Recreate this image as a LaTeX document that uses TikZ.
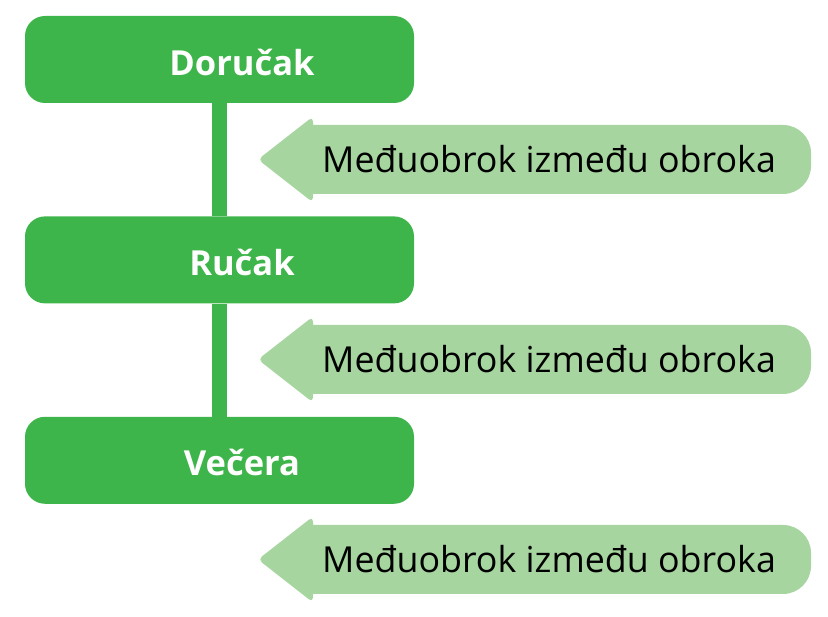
\documentclass[tikz,border=0pt]{standalone}
\usepackage{fontspec}
\setmainfont{Open Sans}
\usepackage{tikz}
\usetikzlibrary{positioning}

\definecolor{mealgreen}{RGB}{62,181,74}
\definecolor{snackgreen}{RGB}{166,213,160}

\begin{document}
\begin{tikzpicture}[
    x=1pt, y=1pt,
    mealbox/.style={rectangle, rounded corners=20pt, fill=mealgreen, minimum width=389pt, minimum height=87pt, inner sep=0pt},
    mealtext/.style={text=white, font=\fontsize{34.5}{38}\selectfont\bfseries, xshift=22.5pt, yshift=-2.5pt},
    snacktext/.style={text=black, font=\fontsize{35.8}{40}\selectfont, inner sep=0pt, anchor=west},
    link/.style={draw=mealgreen, line width=15pt}
    ]
        \useasboundingbox (0,0) rectangle (828,617);
        %Nodes
        \node[mealbox, label={[mealtext]center:Doručak}]
            (dorucak)   at (219.5,557.5)   {};
        \node[mealbox, label={[mealtext]center:Ručak}]
            (rucak)     [below=113pt of dorucak]   {};
        \node[mealbox, label={[mealtext]center:Večera}]
            (vecera)    [below=113pt of rucak]   {};

        %Lines
        \draw[link] (dorucak.south) -- (rucak.north);
        \draw[link] (rucak.south) -- (vecera.north);

        %Snacks
        \foreach \i/\y in {1/457.5, 2/257.5, 3/57.5} {
            \coordinate (tip\i) at (258,\y);
            \fill[snackgreen] (tip\i) [rounded corners=5pt]
                -- ++(55,43) [sharp corners] -- ++(0,-8.5) [rounded corners=28pt]
                -- ++(498,0) -- ++(0,-69) [sharp corners] -- ++(-498,0) [rounded corners=5pt]
                -- ++(0,-8.5) -- cycle;
            \node[snacktext] (snack\i) at ([xshift=64pt]tip\i) {Međuobrok između obroka};
        }
    \end{tikzpicture}
\end{document}
